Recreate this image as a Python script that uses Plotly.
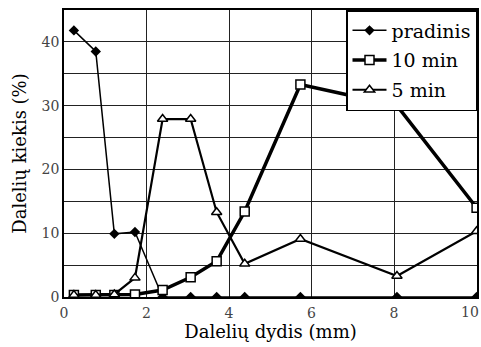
import plotly.graph_objects as go

x_vals = [0.24, 0.77, 1.22, 1.72, 2.39, 3.07, 3.70, 4.38, 5.73, 8.07, 10.0]
pradinis = [41.8, 38.5, 9.9, 10.2, 0, 0, 0, 0, 0, 0, 0]
min10 = [0.3, 0.3, 0.3, 0.4, 1.1, 3.1, 5.6, 13.4, 33.3, 30.0, 14.0]
min5 = [0.3, 0.3, 0.4, 3.0, 27.9, 27.9, 13.3, 5.2, 9.1, 3.3, 10.3]

x_ticks = [0, 2, 4, 6, 8, 10]
x_ticktext = ["0", "2", "4", "6", "8", ""]
last_x_label = "10"
y_ticks = [0, 10, 20, 30, 40]

FONT = "DejaVu Serif"

fig = go.Figure()
fig.add_trace(go.Scatter(x=x_vals, y=pradinis, name="pradinis", mode="lines+markers",
                         legendgroup="a",
                         line=dict(color="black", width=1.5),
                         marker=dict(symbol="diamond", size=8, color="black")))
fig.add_trace(go.Scatter(x=x_vals, y=min10, name="10 min", mode="lines+markers",
                         legendgroup="b",
                         line=dict(color="black", width=3.5),
                         marker=dict(symbol="square", size=9, color="white",
                                     line=dict(color="black", width=1.5))))
fig.add_trace(go.Scatter(x=x_vals, y=min5, name="5 min", mode="lines+markers",
                         legendgroup="c",
                         line=dict(color="black", width=2.2),
                         marker=dict(symbol="triangle-up", size=9, color="white",
                                     line=dict(color="black", width=1.5))))

fig.add_annotation(x=x_ticks[-1], y=0, xref="x", yref="paper", text=last_x_label,
                   showarrow=False, xanchor="right", yanchor="top", xshift=4, yshift=-5,
                   font=dict(family=FONT, size=14, color="#444444"))

fig.update_layout(
    width=481, height=347,
    margin=dict(l=64, r=4, t=10, b=50, autoexpand=False),
    paper_bgcolor="white", plot_bgcolor="white",
    font=dict(family=FONT, color="#333333"),
    showlegend=True,
    legend=dict(x=1, y=1, xanchor="right", yanchor="top",
                bgcolor="white", bordercolor="black", borderwidth=1.5,
                font=dict(family=FONT, size=19, color="black"),
                tracegroupgap=2, itemwidth=34),
)
fig.update_xaxes(range=[0, 10.01], tickvals=x_ticks, ticktext=x_ticktext, ticks="", showline=True,
                 linecolor="black", linewidth=1.5, mirror=True, showgrid=True, gridcolor="#222222",
                 gridwidth=1.2, zeroline=False, tickfont=dict(size=14, color="#444444"),
                 automargin=False, ticklabelstandoff=2,
                 title=dict(text="Dalelių dydis (mm)", font=dict(size=18, color="black"), standoff=2))
fig.update_yaxes(range=[0, 45], tickvals=y_ticks, ticks="", showline=True, linecolor="black",
                 linewidth=1.5, mirror=True, showgrid=True, gridcolor="#222222", gridwidth=1.2,
                 zeroline=False, tickfont=dict(size=14, color="#444444"), automargin=False,
                 minor=dict(tickvals=[5, 15, 25, 35], showgrid=True, gridcolor="#222222", gridwidth=1.2),
                 title=dict(text="Dalelių kiekis (%)", font=dict(size=18, color="black"), standoff=10))

fig.write_html("out.html")
